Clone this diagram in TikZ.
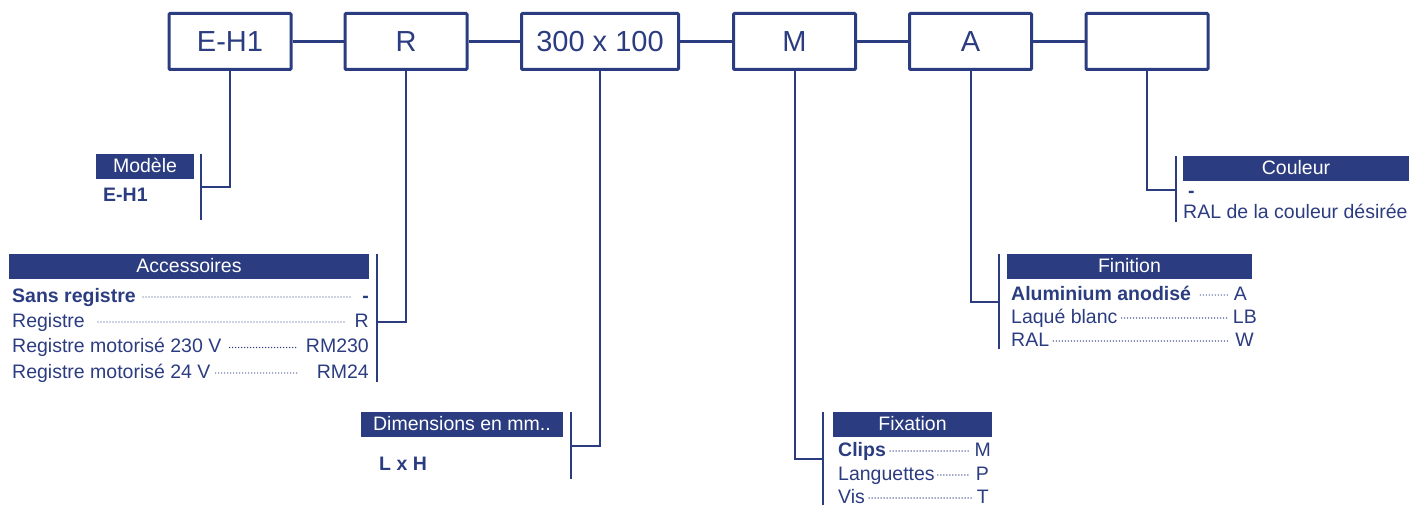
\documentclass[tikz,border=0pt]{standalone}
\usepackage{fontspec}
\setmainfont{Liberation Sans}
\definecolor{navy}{RGB}{43,60,128}
\tikzset{
  codebox/.style={draw=navy, line width=3pt, minimum width=122pt, minimum height=56pt, inner sep=0pt, text=navy, text height=21pt, text depth=0pt, font=\fontsize{29}{30}\selectfont, rounded corners=1pt},
  link/.style={draw=navy, line width=2.5pt},
  branch/.style={draw=navy, line width=2pt},
  head/.style={fill=navy, text=white, inner xsep=0pt, inner ysep=3.5pt, text height=15pt, text depth=3pt, minimum height=25pt, font=\fontsize{19.5}{20}\selectfont},
  item/.style={inner sep=0pt, text=navy, font=\fontsize{19.5}{20}\selectfont},
  pick/.style={item, font=\fontsize{19.5}{20}\selectfont\bfseries},
  leader/.style={navy, line width=1.4pt, line cap=round, dash pattern=on 0pt off 3pt, shorten <=4pt, shorten >=5pt},
}
\begin{document}
\begin{tikzpicture}[x=1pt, y=-1pt]
    \useasboundingbox (0,0) rectangle (1411,505);
    \node [codebox] (model) at (230,41.5) {E-H1};
    \node [codebox] (acc) at (406,41.5) {R};
    \node [codebox, minimum width=157pt] (dim) at (600,41.5) {300 x 100};
    \node [codebox] (fix) at (794.5,41.5) {M};
    \node [codebox] (fin) at (970.5,41.5) {A};
    \node [codebox] (col) at (1147,41.5) {};
    \draw [link] (model) -- (acc) (acc) -- (dim) (dim) -- (fix) (fix) -- (fin) (fin) -- (col);

    \node [head, minimum width=98pt] (modhead) at (145,166.5) {Modèle};
    \node [pick, anchor=base west] (modeh) at (103,202) {E-H1};
    \coordinate (modtop) at (201,154);
    \coordinate (modbot) at (201,220);
    \coordinate (modjoin) at (201,187);
    \draw [branch] (modtop) -- (modbot);
    \draw [branch] (model.south) |- (modjoin);

    \node [head, minimum width=360pt] (acchead) at (189,266.5) {Accessoires};
    \node [pick, anchor=base west] (acca) at (12,302) {Sans registre};
    \node [pick, anchor=base east] (accva) at (369,302) {-};
    \node [item, anchor=base west] (accb) at (12,327) {Registre};
    \node [item, anchor=base east] (accvb) at (369,327) {R};
    \node [item, anchor=base west] (accc) at (12,352.5) {Registre motorisé 230 V};
    \node [item, anchor=base east] (accvc) at (369,352.5) {RM230};
    \node [item, anchor=base west] (accd) at (12,378) {Registre motorisé 24 V};
    \node [item, anchor=base east] (accvd) at (369,378) {RM24};
    \draw [leader, shorten <=7pt, shorten >=12pt] ([yshift=5pt]acca.base east) -- ([yshift=5pt]accva.base west);
    \draw [leader, shorten <=13pt, shorten >=10pt] ([yshift=5pt]accb.base east) -- ([yshift=5pt]accvb.base west);
    \draw [leader, shorten <=8pt, shorten >=9pt] ([yshift=5pt]accc.base east) -- ([yshift=5pt]accvc.base west);
    \draw [leader, shorten <=5pt, shorten >=18pt] ([yshift=5pt]accd.base east) -- ([yshift=5pt]accvd.base west);
    \coordinate (acctop) at (377,254);
    \coordinate (accbot) at (377,382);
    \coordinate (accjoin) at (377,322);
    \draw [branch] (acctop) -- (accbot);
    \draw [branch] (acc.south) |- (accjoin);

    \node [head, minimum width=202pt] (dimhead) at (462,424.5) {Dimensions en mm..};
    \node [pick, anchor=base west] (dimlh) at (379,470) {L x H};
    \coordinate (dimtop) at (571,412);
    \coordinate (dimbot) at (571,479);
    \coordinate (dimjoin) at (571,446);
    \draw [branch] (dimtop) -- (dimbot);
    \draw [branch] (dim.south) |- (dimjoin);

    \node [head, minimum width=159pt] (fixhead) at (912.5,424.5) {Fixation};
    \node [pick, anchor=base west] (fixa) at (838,456) {Clips};
    \node [item, anchor=base east] (fixva) at (991,456) {M};
    \node [item, anchor=base west] (fixb) at (838,480) {Languettes};
    \node [item, anchor=base east] (fixvb) at (989,480) {P};
    \node [item, anchor=base west] (fixc) at (838,503) {Vis};
    \node [item, anchor=base east] (fixvc) at (989,503) {T};
    \draw [leader] ([yshift=5pt]fixa.base east) -- ([yshift=5pt]fixva.base west);
    \draw [leader, shorten <=3pt] ([yshift=5pt]fixb.base east) -- ([yshift=5pt]fixvb.base west);
    \draw [leader] ([yshift=5pt]fixc.base east) -- ([yshift=5pt]fixvc.base west);
    \coordinate (fixtop) at (823,412);
    \coordinate (fixbot) at (823,505);
    \coordinate (fixjoin) at (823,459);
    \draw [branch] (fixtop) -- (fixbot);
    \draw [branch] (fix.south) |- (fixjoin);

    \node [head, minimum width=245pt] (finhead) at (1129.5,266.5) {Finition};
    \node [pick, anchor=base west] (fina) at (1011,300) {Aluminium anodisé};
    \node [item, anchor=base east] (finva) at (1247,300) {A};
    \node [item, anchor=base west] (finb) at (1011,323) {Laqué blanc};
    \node [item, anchor=base east] (finvb) at (1257,323) {LB};
    \node [item, anchor=base west] (finc) at (1011,346) {RAL};
    \node [item, anchor=base east] (finvc) at (1254,346) {W};
    \draw [leader, shorten <=9pt, shorten >=6pt] ([yshift=5pt]fina.base east) -- ([yshift=5pt]finva.base west);
    \draw [leader] ([yshift=5pt]finb.base east) -- ([yshift=5pt]finvb.base west);
    \draw [leader] ([yshift=5pt]finc.base east) -- ([yshift=5pt]finvc.base west);
    \coordinate (fintop) at (999,254);
    \coordinate (finbot) at (999,349);
    \coordinate (finjoin) at (999,302);
    \draw [branch] (fintop) -- (finbot);
    \draw [branch] (fin.south) |- (finjoin);

    \node [head, minimum width=226pt] (colhead) at (1296,168.5) {Couleur};
    \node [pick, anchor=base west] (cola) at (1188,198) {-};
    \node [item, anchor=base west] (colb) at (1183,219) {RAL de la couleur désirée};
    \coordinate (coltop) at (1176,156);
    \coordinate (colbot) at (1176,222);
    \coordinate (coljoin) at (1176,190);
    \draw [branch] (coltop) -- (colbot);
    \draw [branch] (col.south) |- (coljoin);
  \end{tikzpicture}
\end{document}
